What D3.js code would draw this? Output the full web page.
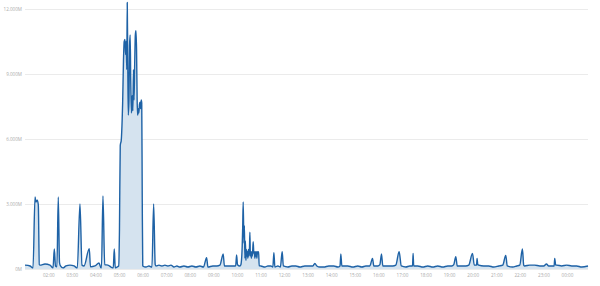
<!DOCTYPE html>
<html>
<head>
<meta charset="utf-8">
<script src="https://cdn.jsdelivr.net/npm/d3@7"></script>
<style>
  body { margin: 0; background: #fff; }
  #chart text { font-family: "Open Sans", "DejaVu Sans", sans-serif; }
</style>
</head>
<body>
<div id="chart"></div>
<script>
// samples: [minutes after 01:00, value in millions]
const samples = [
  [0.7, 0.18], [13.5, 0.14], [21.1, 0.05], [26.2, 3.32], [28.7, 3.09], [32.0, 3.18], [34.6, 2.95],
  [37.1, 0.2], [38.9, 0.18], [51.6, 0.23], [64.3, 0.18], [72.0, 0.05], [75.3, 0.92], [78.3, 0.14],
  [81.9, 0.1], [85.4, 3.32], [88.5, 0.3], [91.0, 0.14], [97.4, 0.05], [105.0, 0.14], [115.2, 0.18], [125.4, 0.14],
  [133.8, 0.05], [140.6, 3.0], [145.7, 0.18], [150.8, 0.14], [164.3, 0.94], [167.3, 0.1], [178.8, 0.14], [189.0, 0.28],
  [194.0, 0.05], [195.3, 0.05], [199.1, 3.37], [203.5, 0.2], [211.8, 0.18], [219.5, 0.09], [225.3, 0.05], [227.9, 0.92],
  [230.4, 0.05], [234.7, 0.09], [239.1, 0.14],
  // 05:00 - 06:00 burst
  [241.1, 1.8], [243.1, 5.7], [245.7, 5.95], [248.0, 6.9], [249.2, 7.66], [251.3, 9.6], [253.1, 10.5], [255.1, 10.6],
  [256.6, 9.9], [258.1, 10.5], [259.7, 9.2], [260.9, 12.3], [262.2, 9.6], [263.5, 7.1], [265.3, 7.8], [266.8, 10.3],
  [268.3, 10.8], [269.8, 8.7], [271.6, 7.2], [273.4, 8.0], [275.2, 7.3], [276.7, 9.2], [278.2, 7.8], [280.0, 9.6],
  [281.5, 10.8], [283.1, 11.0], [284.6, 10.1], [286.1, 7.8], [287.4, 7.1], [288.9, 7.4], [290.4, 7.2], [292.0, 7.6],
  [293.5, 7.7], [295.0, 7.4], [296.5, 7.8], [297.8, 7.66], [299.1, 3.2], [300.4, 0.14],
  [308.5, 0.09], [316.1, 0.14], [323.8, 0.09], [328.1, 3.0], [332.1, 0.2], [333.9, 0.14], [341.6, 0.18],
  [349.2, 0.14], [356.8, 0.18], [364.5, 0.14], [372.1, 0.18], [379.7, 0.09], [387.3, 0.14], [395.0, 0.09], [405.2, 0.14],
  [415.3, 0.09], [425.5, 0.14], [435.7, 0.09], [445.8, 0.14], [454.7, 0.09], [462.9, 0.52], [466.2, 0.09], [478.9, 0.14],
  [489.1, 0.14], [496.7, 0.18], [505.1, 0.69], [508.2, 0.14], [522.2, 0.14], [532.3, 0.14], [536.9, 0.15], [539.2, 0.65],
  [541.5, 0.2], [547.6, 0.14],
  // 10:00 - 11:00 noisy stretch
  [550.1, 0.2], [553.4, 1.0], [554.7, 1.9], [556.0, 3.1], [557.8, 1.2], [559.0, 2.0], [560.3, 0.5], [561.6, 1.3],
  [562.9, 0.4], [564.1, 0.9], [565.4, 0.6], [566.7, 0.8], [567.9, 0.5], [569.2, 0.9], [570.5, 0.6], [571.8, 0.8],
  [573.0, 1.7], [574.3, 0.6], [575.6, 0.8], [576.8, 0.5], [578.1, 0.8], [579.4, 0.6], [581.4, 1.26], [583.2, 0.7],
  [584.5, 0.8], [585.7, 0.5], [587.0, 0.8], [588.3, 0.6], [589.6, 0.8], [590.8, 0.5], [592.1, 0.8], [593.4, 0.7],
  [595.2, 0.8], [596.7, 0.15],
  [601.0, 0.14], [611.2, 0.09], [618.8, 0.14], [626.4, 0.14], [631.5, 0.09], [634.1, 0.75], [636.6, 0.09], [644.2, 0.14],
  [650.6, 0.09], [655.2, 0.8], [658.2, 0.14], [669.7, 0.09], [679.9, 0.14], [690.0, 0.14], [700.2, 0.09], [712.9, 0.14],
  [725.6, 0.14], [733.3, 0.14], [738.4, 0.26], [743.4, 0.14], [751.1, 0.09], [761.2, 0.09], [773.9, 0.14], [786.7, 0.14],
  [796.9, 0.09], [802.4, 0.14], [804.5, 0.69], [807.0, 0.14], [822.3, 0.14], [835.0, 0.09], [847.7, 0.14], [857.9, 0.09],
  [868.1, 0.14], [878.2, 0.14], [885.1, 0.49], [888.4, 0.14], [898.6, 0.14], [903.8, 0.2], [908.0, 0.69], [911.3, 0.14],
  [924.0, 0.14], [936.7, 0.14], [944.4, 0.18], [952.8, 0.8], [958.4, 0.14], [969.8, 0.09], [980.0, 0.14], [986.9, 0.14],
  [988.4, 0.72], [989.9, 0.14], [1000.4, 0.14], [1013.1, 0.09], [1025.8, 0.14], [1038.5, 0.09], [1051.2, 0.14], [1063.9, 0.09],
  [1076.6, 0.14], [1086.8, 0.14], [1091.9, 0.2], [1097.0, 0.57], [1100.8, 0.14], [1114.8, 0.14], [1122.4, 0.14], [1130.1, 0.18],
  [1139.5, 0.72], [1144.1, 0.18], [1149.9, 0.18], [1151.2, 0.49], [1153.0, 0.2], [1155.5, 0.18], [1168.2, 0.14], [1180.9, 0.14],
  [1193.6, 0.09], [1206.3, 0.14], [1216.5, 0.18], [1224.2, 0.63], [1228.0, 0.14], [1242.0, 0.09], [1252.1, 0.14], [1259.8, 0.18],
  [1266.6, 0.92], [1269.9, 0.18], [1272.5, 0.14], [1285.2, 0.18], [1297.9, 0.18], [1310.6, 0.14], [1320.8, 0.14], [1327.7, 0.23],
  [1333.5, 0.14], [1343.7, 0.14], [1347.3, 0.14], [1348.8, 0.49], [1351.3, 0.18], [1353.9, 0.18], [1366.6, 0.14], [1379.3, 0.18],
  [1392.0, 0.14], [1404.7, 0.14], [1417.4, 0.09], [1433.5, 0.14]
];

const yTicks = [0, 3, 6, 9, 12]; // millions

const W = 600, H = 286;
const margin = { top: 9, right: 12, bottom: 17, left: 25 };

const start = new Date(2024, 0, 1, 1, 0);
const toDate = m => new Date(start.getTime() + m * 60000);

const data = samples.map(d => ({ t: toDate(d[0]), v: d[1] }));

const svg = d3.select("#chart")
  .append("svg")
  .attr("width", W)
  .attr("height", H);

const x = d3.scaleTime()
  .domain(d3.extent(data, d => d.t))
  .range([margin.left, W - margin.right]);

const y = d3.scaleLinear()
  .domain([0, 12])
  .range([H - margin.bottom, margin.top]);

// gridlines + y labels
const yAxis = d3.axisLeft(y)
  .tickValues(yTicks)
  .tickSize(-(W - margin.right - margin.left))
  .tickPadding(3)
  .tickFormat(d => d === 0 ? "0M" : d3.format(".3f")(d) + "M");

svg.append("g")
  .attr("transform", `translate(${margin.left},0)`)
  .call(yAxis)
  .call(g => g.select(".domain").remove())
  .call(g => g.selectAll("line").attr("stroke", "#ebebeb"))
  .call(g => g.selectAll("text").attr("fill", "#aaa").attr("font-size", 4.6));

// x labels
const xAxis = d3.axisBottom(x)
  .ticks(d3.timeHour.every(1))
  .tickSize(0)
  .tickPadding(5)
  .tickFormat(d3.timeFormat("%H:%M"));

svg.append("g")
  .attr("transform", `translate(0,${H - margin.bottom})`)
  .call(xAxis)
  .call(g => g.select(".domain").remove())
  .call(g => g.selectAll("text").attr("fill", "#aaa").attr("font-size", 4.6));

const area = d3.area()
  .x(d => x(d.t))
  .y0(y(0))
  .y1(d => y(d.v))
  .curve(d3.curveMonotoneX);

const line = d3.line()
  .x(d => x(d.t))
  .y(d => y(d.v))
  .curve(d3.curveMonotoneX);

svg.append("path")
  .datum(data)
  .attr("fill", "#d5e3ef")
  .attr("d", area);

svg.append("path")
  .datum(data)
  .attr("fill", "none")
  .attr("stroke", "#1e62a6")
  .attr("stroke-width", 1.4)
  .attr("stroke-linejoin", "round")
  .attr("d", line);
</script>
</body>
</html>
